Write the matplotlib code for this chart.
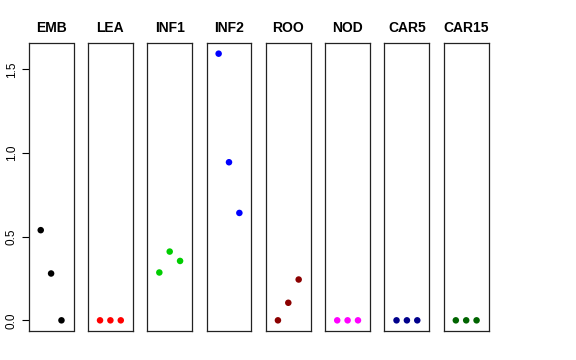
import matplotlib
matplotlib.use("Agg")
import matplotlib.pyplot as plt
import numpy as np

plt.rcParams['font.family'] = ['Liberation Sans', 'DejaVu Sans']

# ------------------------
# Dados
tissues = ["EMB", "LEA", "INF1", "INF2", "ROO", "NOD", "CAR5", "CAR15"]
emb = [0.539, 0.280, 0.0]
lea = [0.0, 0.0, 0.0]
inf1 = [0.286, 0.411, 0.355]
inf2 = [1.594, 0.945, 0.642]
roo = [0.0, 0.105, 0.244]
nod = [0.0, 0.0, 0.0]
car5 = [0.0, 0.0, 0.0]
car15 = [0.0, 0.0, 0.0]
values = [emb, lea, inf1, inf2, roo, nod, car5, car15]
colors = ["black", "#FF0000", "#00CD00", "#0000FF", "#8B0000", "#FF00FF", "#00008B", "#006400"]
yticks = [0.0, 0.5, 1.0, 1.5]

# ------------------------
fig = plt.figure(figsize=(5.76, 3.6), dpi=100)
W, H = 576.0, 360.0
left0, step, pw = 28.7, 59.3, 44.8
top, bottom = 43.0, 331.0

ymax = max(max(v) for v in values)
pad = 0.04 * ymax
for i, (name, vals, col) in enumerate(zip(tissues, values, colors)):
    x0 = left0 + i * step
    ax = fig.add_axes([x0 / W, 1 - bottom / H, pw / W, (bottom - top) / H])
    x = np.arange(1, len(vals) + 1)
    ax.scatter(x, vals, s=22, color=col, edgecolors="none", zorder=3)
    ax.set_xlim(-0.16, 4.16)
    ax.set_ylim(-pad, ymax + pad)
    ax.set_xticks([])
    for s in ax.spines.values():
        s.set_linewidth(0.9)
        s.set_color("#222222")
    ax.set_title(name, fontsize=10, fontweight="bold", pad=8)
    if i == 0:
        ax.set_yticks(yticks)
        ax.set_yticklabels(["%.1f" % t for t in yticks], rotation=90, va="center", fontsize=8.5)
        ax.tick_params(axis="y", length=5, width=0.8, pad=3)
    else:
        ax.set_yticks([])

fig.savefig("out.png", dpi=100)
